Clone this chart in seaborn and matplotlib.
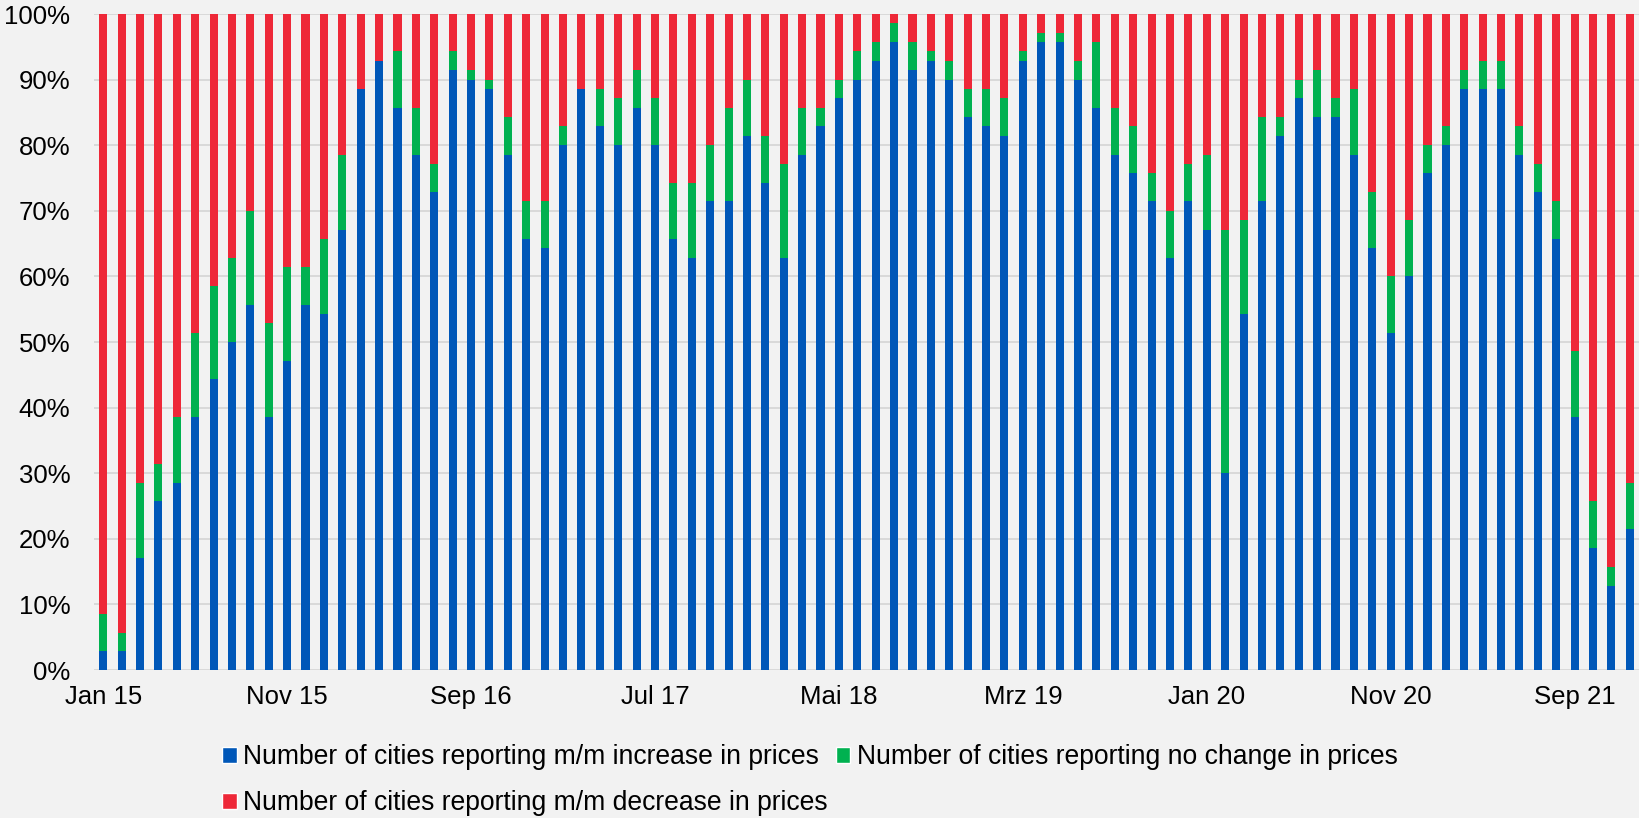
import numpy as np
import pandas as pd
import matplotlib
matplotlib.use("Agg")
import matplotlib.pyplot as plt
from matplotlib.patches import Patch
import seaborn as sns

# Monthly survey of 70 cities, Jan 2015 - Dec 2021
month_names = ["Jan", "Feb", "Mrz", "Apr", "Mai", "Jun",
               "Jul", "Aug", "Sep", "Okt", "Nov", "Dez"]
years = [15, 16, 17, 18, 19, 20, 21]

increase = [2, 2, 12, 18, 20, 27, 31, 35, 39, 27, 33, 39, 38, 47,
            62, 65, 60, 55, 51, 64, 63, 62, 55, 46, 45, 56, 62, 58,
            56, 60, 56, 46, 44, 50, 50, 57, 52, 44, 55, 58, 61, 63,
            65, 67, 64, 65, 63, 59, 58, 57, 65, 67, 67, 63, 60, 55,
            53, 50, 44, 50, 47, 21, 38, 50, 57, 61, 59, 59, 55, 45,
            36, 42, 53, 56, 62, 62, 62, 55, 51, 46, 27, 13, 9, 15]
no_change = [4, 2, 8, 4, 7, 9, 10, 9, 10, 10, 10, 4, 8, 8,
             0, 0, 6, 5, 3, 2, 1, 1, 4, 4, 5, 2, 0, 4,
             5, 4, 5, 6, 8, 6, 10, 6, 5, 10, 5, 2, 2, 3,
             2, 2, 3, 1, 2, 3, 4, 4, 1, 1, 1, 2, 7, 5,
             5, 3, 5, 4, 8, 26, 10, 9, 2, 2, 5, 2, 7, 6,
             6, 6, 3, 2, 2, 3, 3, 3, 3, 4, 7, 5, 2, 5]
decrease = [64, 66, 50, 48, 43, 34, 29, 26, 21, 33, 27, 27, 24, 15,
            8, 5, 4, 10, 16, 4, 6, 7, 11, 20, 20, 12, 8, 8,
            9, 6, 9, 18, 18, 14, 10, 7, 13, 16, 10, 10, 7, 4,
            3, 1, 3, 4, 5, 8, 8, 9, 4, 2, 2, 5, 3, 10,
            12, 17, 21, 16, 15, 23, 22, 11, 11, 7, 6, 9, 8, 19,
            28, 22, 14, 12, 6, 5, 5, 12, 16, 20, 36, 52, 59, 50]

labels = ["Number of cities reporting m/m increase in prices",
          "Number of cities reporting no change in prices",
          "Number of cities reporting m/m decrease in prices"]
colors = ["#0057B8", "#00B150", "#EE2838"]

months = [f"{m} {y}" for y in years for m in month_names]

inc = np.array(increase, dtype=float)
same = np.array(no_change, dtype=float)
dec = np.array(decrease, dtype=float)
total = inc + same + dec

df = pd.DataFrame({
    "month": months,
    "inc_top": inc / total * 100,
    "same_top": (inc + same) / total * 100,
    "dec_top": (inc + same + dec) / total * 100,
})

sns.set_style("white")
plt.rcParams["font.family"] = ["Liberation Sans", "DejaVu Sans"]

bg = "#F2F2F2"
fig = plt.figure(figsize=(16.39, 8.18), dpi=100, facecolor=bg)
ax = fig.add_axes([94 / 1639, 1 - 670 / 818, 1 - 94 / 1639, (670 - 14) / 818])
ax.set_facecolor(bg)

# Stacked look: draw cumulative layers back to front
for col, c in [("dec_top", colors[2]), ("same_top", colors[1]), ("inc_top", colors[0])]:
    sns.barplot(data=df, x="month", y=col, color=c, saturation=1,
                width=0.44, errorbar=None, linewidth=0, ax=ax)

ax.set_xlim(-0.5, len(months) - 0.5)
ax.set_ylim(0, 100)
ax.set_yticks(np.arange(0, 101, 10))
ax.set_yticklabels([f"{v}%" for v in range(0, 101, 10)])
tick_pos = list(range(0, len(months), 10))
ax.set_xticks(tick_pos)
ax.set_xticklabels([months[i] for i in tick_pos])
ax.set_xlabel("")
ax.set_ylabel("")

ax.yaxis.grid(True, color="#D9D9D9", linewidth=1.4)
ax.xaxis.grid(False)
ax.set_axisbelow(True)
for s in ax.spines.values():
    s.set_visible(False)
ax.tick_params(axis="both", length=0, labelsize=18.5, colors="black")
ax.tick_params(axis="x", pad=11)
ax.tick_params(axis="y", pad=17)

# Legend: two entries on the first row, one on the second
handles = [Patch(facecolor=colors[0], label=labels[0]),
           Patch(facecolor=colors[2], label=labels[2]),
           Patch(facecolor=colors[1], label=labels[1])]
fig.legend(handles=handles, loc="center left", ncol=2,
           bbox_to_anchor=(222 / 1639, 1 - 780 / 818),
           frameon=False, fontsize=19.1, labelcolor="black",
           borderpad=0, borderaxespad=0,
           handlelength=0.55, handleheight=0.55, handletextpad=0.25,
           columnspacing=0.3, labelspacing=0.75)

fig.savefig("out.png", dpi=100, facecolor=bg)
